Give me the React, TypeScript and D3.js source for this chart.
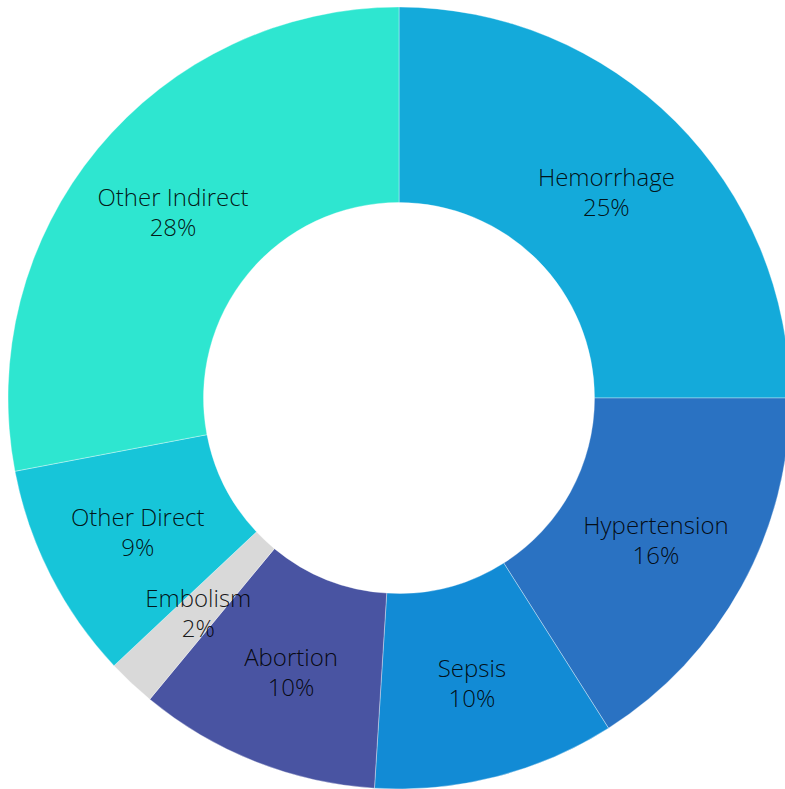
import React from "react";
import * as d3 from "d3";

const categories = ["Hemorrhage", "Hypertension", "Sepsis", "Abortion", "Embolism", "Other Direct", "Other Indirect"];
const values = [25, 16, 10, 10, 2, 9, 28];
const colors = ["#14aada", "#2a72c2", "#128bd5", "#4954a2", "#d9d9d9", "#17c5d9", "#2ee6d0"];

const W = 785;
const H = 789;
const CX = 399;
const CY = 398;
const R = 391;
const R0 = 195.5;

export default function App() {
  const data = categories.map((c, i) => ({ name: c, value: values[i], color: colors[i] }));
  const pie = d3.pie<any>().value((d) => d.value).sort(null);
  const arcs = pie(data);
  const arc = d3.arc<any>().innerRadius(R0).outerRadius(R);
  const total = d3.sum(values);
  return (
    <svg width={W} height={H} style={{ position: "absolute", left: 0, top: 0 }}>
      <g transform={`translate(${CX},${CY})`}>
        {arcs.map((a, i) => (
          <path key={i} d={arc(a) || ""} fill={a.data.color} stroke="rgba(255,255,255,0.35)" strokeWidth={1} />
        ))}
        {arcs.map((a, i) => {
          const [x, y] = arc.centroid(a);
          return (
            <text
              key={"t" + i}
              x={x}
              y={y}
              textAnchor="middle"
              fontFamily="'Open Sans', sans-serif"
              fontWeight={300}
              fontSize={24}
              fill="#000"
              fillOpacity={0.9}
            >
              <tspan x={x} dy={-5}>{a.data.name}</tspan>
              <tspan x={x} dy={30}>{Math.round((a.data.value / total) * 100) + "%"}</tspan>
            </text>
          );
        })}
      </g>
    </svg>
  );
}
